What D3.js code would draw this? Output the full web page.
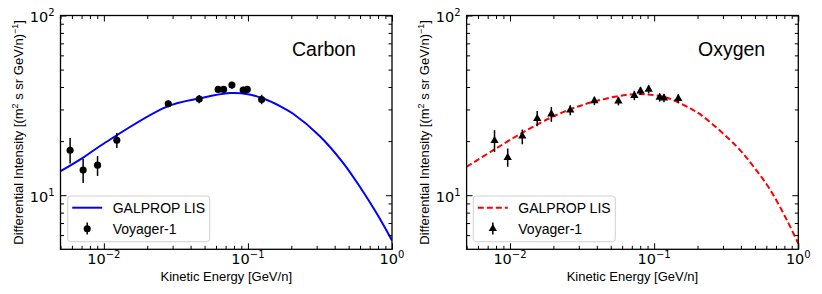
<!DOCTYPE html>
<html><head><meta charset="utf-8">
<script src="https://cdn.jsdelivr.net/npm/d3@7"></script>
<style>body{margin:0;background:#fff}svg{display:block}</style>
</head><body><svg id="c" width="822" height="294"></svg>
<script>
// ---------- data ----------
const xTickValues = [0.01, 0.1, 1];
const xTickExps = ["\u22122", "\u22121", "0"];
const yTickValues = [10, 100];
const yTickExps = ["1", "2"];
const xLabel = "Kinetic Energy [GeV/n]";

const carbonE  = [0.00583, 0.00718, 0.00904, 0.0123, 0.028, 0.0459, 0.0622, 0.0678, 0.0774, 0.0927, 0.0989, 0.1245];
const carbonI  = [17.8, 13.8, 14.7, 20.2, 32.3, 34.3, 38.8, 38.8, 41.0, 38.5, 38.8, 34.1];
const carbonLo = [15.0, 11.7, 12.8, 18.3, 30.9, 32.5, 37.2, 37.2, 39.3, 36.9, 37.2, 32.1];
const carbonHi = [20.8, 15.9, 16.5, 22.2, 33.6, 36.1, 40.5, 40.5, 42.8, 40.1, 40.5, 36.2];

const carbonCurveE = [0.005, 0.00718, 0.01, 0.0272, 0.0464, 0.075, 0.1, 0.128, 0.167, 0.206, 0.316, 0.459, 0.6, 0.784, 1.0];
const carbonCurveI = [13.6, 16.2, 19.4, 31.0, 34.6, 37.0, 36.5, 34.5, 31.3, 28.4, 21.3, 15.1, 11.1, 7.9, 5.6];

const oxygenE  = [0.00781, 0.00964, 0.01217, 0.01545, 0.01936, 0.02618, 0.0385, 0.0565, 0.0729, 0.0804, 0.0916, 0.1092, 0.117, 0.147];
const oxygenI  = [20.1, 16.2, 21.3, 26.7, 28.3, 29.8, 33.5, 33.4, 35.8, 38.0, 38.8, 35.0, 34.7, 34.5];
const oxygenLo = [17.4, 14.4, 19.2, 24.2, 25.6, 27.9, 31.7, 31.6, 33.8, 36.1, 36.9, 33.2, 32.9, 32.7];
const oxygenHi = [23.0, 18.2, 23.2, 29.4, 31.0, 31.7, 35.3, 35.2, 38.1, 40.0, 40.8, 36.8, 36.5, 36.4];

const oxygenCurveE = [0.005, 0.00766, 0.01306, 0.0222, 0.0379, 0.0718, 0.110, 0.129, 0.178, 0.22, 0.375, 0.49, 0.639, 0.834, 1.0];
const oxygenCurveI = [14.4, 17.8, 23.0, 28.5, 33.1, 36.5, 35.6, 34.4, 30.4, 27.3, 18.6, 14.4, 10.7, 7.26, 5.38];

// ---------- layout ----------
const panels = [
  {title:"Carbon", E:carbonE, I:carbonI, lo:carbonLo, hi:carbonHi, cE:carbonCurveE, cI:carbonCurveI,
   x0:60.5, x1:392, color:"#0000ff", dash:null, marker:"circle", titleX:292, legX:67.7, ylabX:22.5},
  {title:"Oxygen", E:oxygenE, I:oxygenI, lo:oxygenLo, hi:oxygenHi, cE:oxygenCurveE, cI:oxygenCurveI,
   x0:466.6, x1:798.3, color:"#ff0000", dash:"6,3", marker:"triangle", titleX:698, legX:473.3, ylabX:429}
];
const yTop = 15.5, yBot = 249.3;
const sans = "'Liberation Sans', Arial, Helvetica, sans-serif";
const dejavu = "'DejaVu Sans', sans-serif";

const svg = d3.select("#c");

panels.forEach((p, pi) => {
  const x = d3.scaleLog().domain([0.005, 1]).range([p.x0, p.x1]);
  const y = d3.scaleLog().domain([5, 100]).range([yBot, yTop]);
  const g = svg.append("g");

  const cid = "clip" + pi;
  svg.append("clipPath").attr("id", cid).append("rect")
    .attr("x", p.x0).attr("y", yTop).attr("width", p.x1 - p.x0).attr("height", yBot - yTop);

  // curve
  const line = d3.line().x(d => x(d[0])).y(d => y(d[1])).curve(d3.curveCatmullRom.alpha(0.5));
  g.append("path").attr("clip-path", `url(#${cid})`)
    .datum(p.cE.map((e, i) => [e, p.cI[i]]))
    .attr("d", line).attr("fill", "none").attr("stroke", p.color).attr("stroke-width", 2)
    .attr("stroke-dasharray", p.dash);

  // data
  const pts = p.E.map((e, i) => ({e, v:p.I[i], lo:p.lo[i], hi:p.hi[i]}));
  g.selectAll(".eb").data(pts).join("line")
    .attr("x1", d => x(d.e)).attr("x2", d => x(d.e))
    .attr("y1", d => y(d.lo)).attr("y2", d => y(d.hi))
    .attr("stroke", "#000").attr("stroke-width", 1.5);
  const sym = p.marker === "circle" ? d3.symbol(d3.symbolCircle, 40) : d3.symbol(d3.symbolTriangle, 30);
  g.selectAll(".mk").data(pts).join("path")
    .attr("d", sym).attr("transform", d => `translate(${x(d.e)},${y(d.v)})`).attr("fill", "#000");

  // ticks
  const minorX = [];
  [0.001, 0.01, 0.1].forEach(dec => { for (let k = 2; k <= 9; k++) { const v = k * dec; if (v >= 0.005 && v < 1) minorX.push(v); } });
  const minorY = [6, 7, 8, 9, 20, 30, 40, 50, 60, 70, 80, 90];
  function tickGroup(axisFn, scale, values, size, tr) {
    const a = g.append("g").attr("transform", tr)
      .call(axisFn(scale).tickValues(values).tickSize(size).tickFormat(""));
    a.select(".domain").remove();
    a.selectAll("line").attr("stroke", "#000").attr("stroke-width", 1);
  }
  tickGroup(d3.axisBottom, x, xTickValues, -6, `translate(0,${yBot})`);
  tickGroup(d3.axisBottom, x, minorX, -3.5, `translate(0,${yBot})`);
  tickGroup(d3.axisTop, x, xTickValues, -6, `translate(0,${yTop})`);
  tickGroup(d3.axisTop, x, minorX, -3.5, `translate(0,${yTop})`);
  tickGroup(d3.axisLeft, y, yTickValues, -6, `translate(${p.x0},0)`);
  tickGroup(d3.axisLeft, y, minorY, -3.5, `translate(${p.x0},0)`);
  tickGroup(d3.axisRight, y, yTickValues, -6, `translate(${p.x1},0)`);
  tickGroup(d3.axisRight, y, minorY, -3.5, `translate(${p.x1},0)`);

  // spine
  g.append("rect").attr("x", p.x0).attr("y", yTop).attr("width", p.x1 - p.x0).attr("height", yBot - yTop)
    .attr("fill", "none").attr("stroke", "#000").attr("stroke-width", 1.3);

  // tick labels
  xTickValues.forEach((v, i) => {
    const t = g.append("text").attr("x", x(v)).attr("y", 264).attr("text-anchor", "middle")
      .attr("font-family", dejavu).attr("font-size", 14.5).attr("fill", "#000").text("10");
    t.append("tspan").attr("dy", -6).attr("font-size", 10).text(xTickExps[i]);
  });
  yTickValues.forEach((v, i) => {
    const t = g.append("text").attr("x", p.x0 - 6).attr("y", y(v) + 6.8).attr("text-anchor", "end")
      .attr("font-family", dejavu).attr("font-size", 14.5).attr("fill", "#000").text("10");
    t.append("tspan").attr("dy", -6).attr("font-size", 10).text(yTickExps[i]);
  });

  // axis labels
  g.append("text").attr("x", (p.x0 + p.x1) / 2).attr("y", 281).attr("text-anchor", "middle")
    .attr("font-family", sans).attr("font-size", 13).attr("fill", "#000").text(xLabel);
  const yl = g.append("text").attr("transform", `translate(${p.ylabX},${(yTop + yBot) / 2}) rotate(-90)`)
    .attr("text-anchor", "middle").attr("font-family", sans).attr("font-size", 13).attr("fill", "#000");
  yl.append("tspan").text("Differential Intensity [(m");
  yl.append("tspan").attr("dy", -5).attr("font-size", 9).text("2");
  yl.append("tspan").attr("dy", 5).text(" s sr GeV/n)");
  yl.append("tspan").attr("dy", -5).attr("font-size", 9).text("\u22121");
  yl.append("tspan").attr("dy", 5).text("]");

  // title
  g.append("text").attr("x", p.titleX).attr("y", 56).attr("font-family", sans).attr("font-size", 19.5)
    .attr("fill", "#000").text(p.title);

  // legend
  const lg = g.append("g");
  lg.append("rect").attr("x", p.legX).attr("y", 196).attr("width", 142).attr("height", 45.7).attr("rx", 3)
    .attr("fill", "#fff").attr("fill-opacity", 0.8).attr("stroke", "#d0d0d0").attr("stroke-width", 1);
  lg.append("line").attr("x1", p.legX + 4.5).attr("x2", p.legX + 34.5).attr("y1", 207.7).attr("y2", 207.7)
    .attr("stroke", p.color).attr("stroke-width", 2).attr("stroke-dasharray", p.dash);
  lg.append("line").attr("x1", p.legX + 19.5).attr("x2", p.legX + 19.5).attr("y1", 222.5).attr("y2", 234.5)
    .attr("stroke", "#000").attr("stroke-width", 1.5);
  lg.append("path").attr("d", sym).attr("transform", `translate(${p.legX + 19.5},228.7)`).attr("fill", "#000");
  lg.append("text").attr("x", p.legX + 45).attr("y", 213).attr("font-family", sans).attr("font-size", 14)
    .attr("fill", "#000").text("GALPROP LIS");
  lg.append("text").attr("x", p.legX + 45).attr("y", 234).attr("font-family", sans).attr("font-size", 14)
    .attr("fill", "#000").text("Voyager-1");
});
</script></body></html>
